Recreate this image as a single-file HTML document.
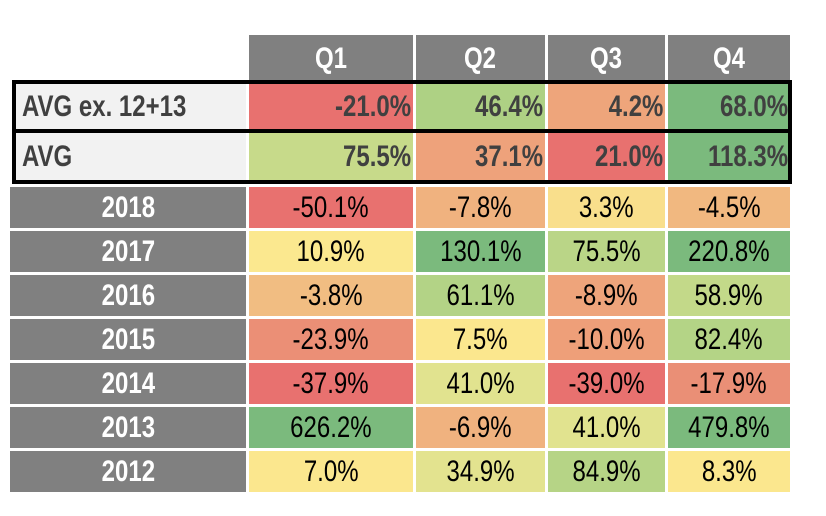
<!DOCTYPE html>
<html><head><meta charset="utf-8"><style>
body{margin:0;width:826px;height:516px;background:#fff;position:relative;overflow:hidden;font-family:"Liberation Sans",sans-serif}
.c{position:absolute;box-sizing:border-box;display:flex;align-items:center;font-size:30px;white-space:nowrap}
.c span{display:inline-block;transform:scaleX(0.8)}
.hd{background:#808080;color:#fff;font-weight:bold;justify-content:center}
.yr{background:#808080;color:#fff;font-weight:bold;justify-content:center}
.al{background:#f2f2f2;color:#404040;font-weight:bold;justify-content:flex-start;padding-left:8px}
.al span{transform-origin:left center}
.av{color:#404040;font-weight:bold;justify-content:flex-end;padding-right:2px}
.av span{transform-origin:right center}
.v{color:#000;justify-content:center}
.bx{position:absolute;border:4px solid #000;box-sizing:border-box}
</style></head><body>
<div id="t"></div>
<script>
const quarters=["Q1","Q2","Q3","Q4"];
const avgLabels=["AVG ex. 12+13","AVG"];
const avgValues=[[-21.0,46.4,4.2,68.0],[75.5,37.1,21.0,118.3]];
const avgColors=[["#e8716f","#aed184","#eea57b","#7bba7d"],["#c7da8a","#eea27b","#e8716f","#7bba7d"]];
const years=["2018","2017","2016","2015","2014","2013","2012"];
const yearValues=[[-50.1,-7.8,3.3,-4.5],[10.9,130.1,75.5,220.8],[-3.8,61.1,-8.9,58.9],[-23.9,7.5,-10.0,82.4],[-37.9,41.0,-39.0,-17.9],[626.2,-6.9,41.0,479.8],[7.0,34.9,84.9,8.3]];
const yearColors=[["#e8716f","#f0b27f","#f9df8c","#f1b880"],["#fbe88f","#7bba7d","#bad587","#7bba7d"],["#f1bd82","#b3d386","#eea47b","#c3d989"],["#eb8f76","#fbe78e","#ee9f79","#b4d486"],["#e8716f","#e1e38f","#e8716f","#ea8f76"],["#7bba7d","#f0b27f","#e1e38f","#7bba7d"],["#fbe78e","#e3e38f","#b6d486","#fbe78e"]];
const t=document.getElementById('t');
const colX=[[249,413],[416,545],[548,665],[668,790]];
function cell(cls,x0,x1,y0,y1,txt,bg){const d=document.createElement('div');d.className='c '+cls;d.style.left=x0+'px';d.style.width=(x1-x0)+'px';d.style.top=y0+'px';d.style.height=(y1-y0)+'px';if(bg)d.style.background=bg;const s=document.createElement('span');s.textContent=txt;d.appendChild(s);t.appendChild(d);return d;}
const fmt=v=>v.toFixed(1)+'%';
quarters.forEach((q,i)=>{const d=cell('hd',colX[i][0],colX[i][1],35,82,q);

});
const avgY=[[84,129],[133,180]];
avgLabels.forEach((l,r)=>{const d=cell('al',14,246,avgY[r][0],avgY[r][1],l);


avgValues[r].forEach((v,i)=>{const e=cell('av',colX[i][0],colX[i][1],avgY[r][0],avgY[r][1],fmt(v),avgColors[r][i]);

});});
years.forEach((y,r)=>{const y0=187+r*44,y1=y0+41;const d=cell('yr',10,246,y0,y1,y);


yearValues[r].forEach((v,i)=>{const e=cell('v',colX[i][0],colX[i][1],y0,y1,fmt(v),yearColors[r][i]);

});});
const b=document.createElement('div');b.className='bx';b.style.cssText='left:12px;top:80px;width:780px;height:104px';


t.appendChild(b);
const m=document.createElement('div');m.style.cssText='position:absolute;left:12px;top:129px;width:780px;height:4px;background:#000';


t.appendChild(m);
</script>
</body></html>
